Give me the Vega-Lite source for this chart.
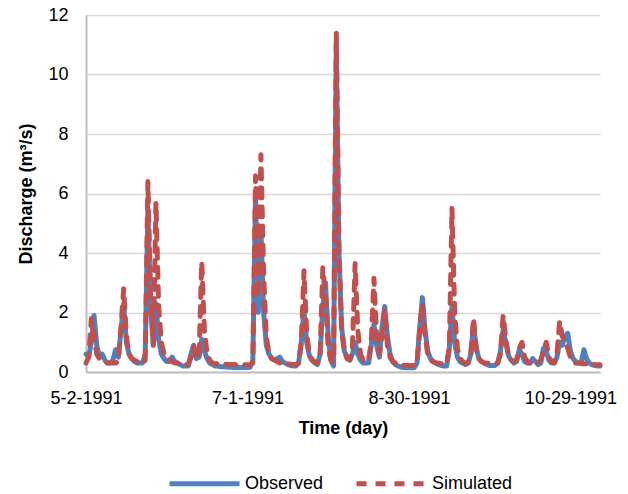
{
"$schema": "https://vega.github.io/schema/vega-lite/v6.json",
"width": 514, "height": 357,
"autosize": "none",
"padding": {"left": 86, "top": 15, "right": 28, "bottom": 122},
"background": "white",
"config": {"view": {"stroke": null}, "font": "Liberation Sans"},
"data": {"format": {"parse": {"date": "date:'%Y-%m-%d'"}}, "values": [
{"date":"1991-05-02","Observed":0.6,"Simulated":0.3},
{"date":"1991-05-03","Observed":0.5,"Simulated":0.5},
{"date":"1991-05-04","Observed":1.0,"Simulated":1.8},
{"date":"1991-05-05","Observed":1.9,"Simulated":1.2},
{"date":"1991-05-06","Observed":0.9,"Simulated":0.6},
{"date":"1991-05-07","Observed":0.5,"Simulated":0.45},
{"date":"1991-05-08","Observed":0.6,"Simulated":0.4},
{"date":"1991-05-09","Observed":0.4,"Simulated":0.35},
{"date":"1991-05-10","Observed":0.3,"Simulated":0.3},
{"date":"1991-05-11","Observed":0.3,"Simulated":0.3},
{"date":"1991-05-12","Observed":0.4,"Simulated":0.3},
{"date":"1991-05-13","Observed":0.75,"Simulated":0.3},
{"date":"1991-05-14","Observed":0.5,"Simulated":0.35},
{"date":"1991-05-15","Observed":1.4,"Simulated":1.5},
{"date":"1991-05-16","Observed":2.3,"Simulated":2.8},
{"date":"1991-05-17","Observed":1.0,"Simulated":1.2},
{"date":"1991-05-18","Observed":0.6,"Simulated":0.6},
{"date":"1991-05-19","Observed":0.45,"Simulated":0.45},
{"date":"1991-05-20","Observed":0.35,"Simulated":0.4},
{"date":"1991-05-21","Observed":0.3,"Simulated":0.35},
{"date":"1991-05-22","Observed":0.3,"Simulated":0.3},
{"date":"1991-05-23","Observed":0.3,"Simulated":0.3},
{"date":"1991-05-24","Observed":0.6,"Simulated":0.4},
{"date":"1991-05-25","Observed":5.5,"Simulated":6.4},
{"date":"1991-05-26","Observed":2.2,"Simulated":2.6},
{"date":"1991-05-27","Observed":0.9,"Simulated":0.9},
{"date":"1991-05-28","Observed":2.3,"Simulated":5.7},
{"date":"1991-05-29","Observed":1.1,"Simulated":2.2},
{"date":"1991-05-30","Observed":0.6,"Simulated":1.0},
{"date":"1991-05-31","Observed":0.45,"Simulated":0.6},
{"date":"1991-06-01","Observed":0.35,"Simulated":0.45},
{"date":"1991-06-02","Observed":0.35,"Simulated":0.4},
{"date":"1991-06-03","Observed":0.5,"Simulated":0.35},
{"date":"1991-06-04","Observed":0.35,"Simulated":0.3},
{"date":"1991-06-05","Observed":0.3,"Simulated":0.3},
{"date":"1991-06-06","Observed":0.25,"Simulated":0.25},
{"date":"1991-06-07","Observed":0.2,"Simulated":0.25},
{"date":"1991-06-08","Observed":0.2,"Simulated":0.25},
{"date":"1991-06-09","Observed":0.2,"Simulated":0.25},
{"date":"1991-06-10","Observed":0.6,"Simulated":0.5},
{"date":"1991-06-11","Observed":0.9,"Simulated":0.85},
{"date":"1991-06-12","Observed":0.45,"Simulated":0.45},
{"date":"1991-06-13","Observed":0.5,"Simulated":0.5},
{"date":"1991-06-14","Observed":1.1,"Simulated":3.7},
{"date":"1991-06-15","Observed":0.7,"Simulated":1.4},
{"date":"1991-06-16","Observed":0.45,"Simulated":0.6},
{"date":"1991-06-17","Observed":0.3,"Simulated":0.4},
{"date":"1991-06-18","Observed":0.25,"Simulated":0.3},
{"date":"1991-06-19","Observed":0.2,"Simulated":0.28},
{"date":"1991-06-20","Observed":0.2,"Simulated":0.27},
{"date":"1991-06-21","Observed":0.18,"Simulated":0.27},
{"date":"1991-06-22","Observed":0.18,"Simulated":0.26},
{"date":"1991-06-23","Observed":0.17,"Simulated":0.26},
{"date":"1991-06-24","Observed":0.16,"Simulated":0.25},
{"date":"1991-06-25","Observed":0.16,"Simulated":0.25},
{"date":"1991-06-26","Observed":0.15,"Simulated":0.25},
{"date":"1991-06-27","Observed":0.15,"Simulated":0.24},
{"date":"1991-06-28","Observed":0.15,"Simulated":0.24},
{"date":"1991-06-29","Observed":0.15,"Simulated":0.24},
{"date":"1991-06-30","Observed":0.15,"Simulated":0.24},
{"date":"1991-07-01","Observed":0.15,"Simulated":0.24},
{"date":"1991-07-02","Observed":0.16,"Simulated":0.24},
{"date":"1991-07-03","Observed":0.4,"Simulated":0.3},
{"date":"1991-07-04","Observed":6.0,"Simulated":6.6},
{"date":"1991-07-05","Observed":2.0,"Simulated":2.5},
{"date":"1991-07-06","Observed":4.8,"Simulated":7.3},
{"date":"1991-07-07","Observed":2.0,"Simulated":3.3},
{"date":"1991-07-08","Observed":0.9,"Simulated":1.2},
{"date":"1991-07-09","Observed":0.6,"Simulated":0.6},
{"date":"1991-07-10","Observed":0.45,"Simulated":0.45},
{"date":"1991-07-11","Observed":0.4,"Simulated":0.4},
{"date":"1991-07-12","Observed":0.45,"Simulated":0.35},
{"date":"1991-07-13","Observed":0.5,"Simulated":0.3},
{"date":"1991-07-14","Observed":0.35,"Simulated":0.3},
{"date":"1991-07-15","Observed":0.3,"Simulated":0.28},
{"date":"1991-07-16","Observed":0.25,"Simulated":0.27},
{"date":"1991-07-17","Observed":0.22,"Simulated":0.26},
{"date":"1991-07-18","Observed":0.2,"Simulated":0.25},
{"date":"1991-07-19","Observed":0.2,"Simulated":0.25},
{"date":"1991-07-20","Observed":0.3,"Simulated":0.3},
{"date":"1991-07-21","Observed":1.0,"Simulated":1.0},
{"date":"1991-07-22","Observed":2.1,"Simulated":3.4},
{"date":"1991-07-23","Observed":1.0,"Simulated":1.3},
{"date":"1991-07-24","Observed":0.55,"Simulated":0.6},
{"date":"1991-07-25","Observed":0.4,"Simulated":0.4},
{"date":"1991-07-26","Observed":0.3,"Simulated":0.35},
{"date":"1991-07-27","Observed":0.25,"Simulated":0.3},
{"date":"1991-07-28","Observed":0.6,"Simulated":0.6},
{"date":"1991-07-29","Observed":2.2,"Simulated":3.5},
{"date":"1991-07-30","Observed":3.0,"Simulated":2.5},
{"date":"1991-07-31","Observed":1.2,"Simulated":0.8},
{"date":"1991-08-01","Observed":0.4,"Simulated":0.4},
{"date":"1991-08-02","Observed":0.2,"Simulated":0.3},
{"date":"1991-08-03","Observed":11.0,"Simulated":11.4},
{"date":"1991-08-04","Observed":4.0,"Simulated":4.0},
{"date":"1991-08-05","Observed":1.5,"Simulated":1.4},
{"date":"1991-08-06","Observed":0.7,"Simulated":0.7},
{"date":"1991-08-07","Observed":0.5,"Simulated":0.45},
{"date":"1991-08-08","Observed":0.4,"Simulated":0.4},
{"date":"1991-08-09","Observed":0.6,"Simulated":0.8},
{"date":"1991-08-10","Observed":1.0,"Simulated":3.65},
{"date":"1991-08-11","Observed":0.6,"Simulated":1.4},
{"date":"1991-08-12","Observed":0.4,"Simulated":0.6},
{"date":"1991-08-13","Observed":0.3,"Simulated":0.4},
{"date":"1991-08-14","Observed":0.3,"Simulated":0.35},
{"date":"1991-08-15","Observed":0.3,"Simulated":0.4},
{"date":"1991-08-16","Observed":0.9,"Simulated":1.0},
{"date":"1991-08-17","Observed":1.6,"Simulated":3.15},
{"date":"1991-08-18","Observed":0.9,"Simulated":1.2},
{"date":"1991-08-19","Observed":0.5,"Simulated":0.6},
{"date":"1991-08-20","Observed":1.5,"Simulated":1.2},
{"date":"1991-08-21","Observed":2.2,"Simulated":2.1},
{"date":"1991-08-22","Observed":1.2,"Simulated":0.9},
{"date":"1991-08-23","Observed":0.6,"Simulated":0.5},
{"date":"1991-08-24","Observed":0.35,"Simulated":0.35},
{"date":"1991-08-25","Observed":0.25,"Simulated":0.3},
{"date":"1991-08-26","Observed":0.2,"Simulated":0.25},
{"date":"1991-08-27","Observed":0.17,"Simulated":0.24},
{"date":"1991-08-28","Observed":0.15,"Simulated":0.23},
{"date":"1991-08-29","Observed":0.14,"Simulated":0.22},
{"date":"1991-08-30","Observed":0.14,"Simulated":0.22},
{"date":"1991-08-31","Observed":0.14,"Simulated":0.22},
{"date":"1991-09-01","Observed":0.15,"Simulated":0.22},
{"date":"1991-09-02","Observed":0.3,"Simulated":0.3},
{"date":"1991-09-03","Observed":1.5,"Simulated":1.4},
{"date":"1991-09-04","Observed":2.5,"Simulated":2.3},
{"date":"1991-09-05","Observed":1.4,"Simulated":1.2},
{"date":"1991-09-06","Observed":0.7,"Simulated":0.6},
{"date":"1991-09-07","Observed":0.45,"Simulated":0.4},
{"date":"1991-09-08","Observed":0.35,"Simulated":0.35},
{"date":"1991-09-09","Observed":0.3,"Simulated":0.3},
{"date":"1991-09-10","Observed":0.25,"Simulated":0.3},
{"date":"1991-09-11","Observed":0.22,"Simulated":0.28},
{"date":"1991-09-12","Observed":0.2,"Simulated":0.27},
{"date":"1991-09-13","Observed":0.2,"Simulated":0.27},
{"date":"1991-09-14","Observed":0.8,"Simulated":0.8},
{"date":"1991-09-15","Observed":2.2,"Simulated":5.5},
{"date":"1991-09-16","Observed":1.0,"Simulated":2.0},
{"date":"1991-09-17","Observed":0.5,"Simulated":0.8},
{"date":"1991-09-18","Observed":0.35,"Simulated":0.45},
{"date":"1991-09-19","Observed":0.3,"Simulated":0.35},
{"date":"1991-09-20","Observed":0.25,"Simulated":0.3},
{"date":"1991-09-21","Observed":0.3,"Simulated":0.3},
{"date":"1991-09-22","Observed":0.6,"Simulated":0.6},
{"date":"1991-09-23","Observed":1.6,"Simulated":1.8},
{"date":"1991-09-24","Observed":0.8,"Simulated":0.8},
{"date":"1991-09-25","Observed":0.45,"Simulated":0.45},
{"date":"1991-09-26","Observed":0.35,"Simulated":0.35},
{"date":"1991-09-27","Observed":0.3,"Simulated":0.3},
{"date":"1991-09-28","Observed":0.25,"Simulated":0.3},
{"date":"1991-09-29","Observed":0.22,"Simulated":0.28},
{"date":"1991-09-30","Observed":0.22,"Simulated":0.28},
{"date":"1991-10-01","Observed":0.22,"Simulated":0.28},
{"date":"1991-10-02","Observed":0.3,"Simulated":0.3},
{"date":"1991-10-03","Observed":0.7,"Simulated":0.6},
{"date":"1991-10-04","Observed":1.4,"Simulated":1.9},
{"date":"1991-10-05","Observed":1.0,"Simulated":1.1},
{"date":"1991-10-06","Observed":0.55,"Simulated":0.55},
{"date":"1991-10-07","Observed":0.4,"Simulated":0.4},
{"date":"1991-10-08","Observed":0.3,"Simulated":0.35},
{"date":"1991-10-09","Observed":0.35,"Simulated":0.4},
{"date":"1991-10-10","Observed":0.75,"Simulated":0.8},
{"date":"1991-10-11","Observed":0.6,"Simulated":1.0},
{"date":"1991-10-12","Observed":0.35,"Simulated":0.5},
{"date":"1991-10-13","Observed":0.3,"Simulated":0.35},
{"date":"1991-10-14","Observed":0.3,"Simulated":0.3},
{"date":"1991-10-15","Observed":0.45,"Simulated":0.3},
{"date":"1991-10-16","Observed":0.35,"Simulated":0.3},
{"date":"1991-10-17","Observed":0.25,"Simulated":0.3},
{"date":"1991-10-18","Observed":0.3,"Simulated":0.4},
{"date":"1991-10-19","Observed":0.8,"Simulated":0.7},
{"date":"1991-10-20","Observed":0.7,"Simulated":1.0},
{"date":"1991-10-21","Observed":0.4,"Simulated":0.5},
{"date":"1991-10-22","Observed":0.3,"Simulated":0.35},
{"date":"1991-10-23","Observed":0.3,"Simulated":0.3},
{"date":"1991-10-24","Observed":0.5,"Simulated":0.6},
{"date":"1991-10-25","Observed":1.0,"Simulated":1.7},
{"date":"1991-10-26","Observed":0.9,"Simulated":1.2},
{"date":"1991-10-27","Observed":1.2,"Simulated":1.0},
{"date":"1991-10-28","Observed":1.3,"Simulated":0.8},
{"date":"1991-10-29","Observed":0.7,"Simulated":0.5},
{"date":"1991-10-30","Observed":0.45,"Simulated":0.35},
{"date":"1991-10-31","Observed":0.35,"Simulated":0.3},
{"date":"1991-11-01","Observed":0.3,"Simulated":0.3},
{"date":"1991-11-02","Observed":0.3,"Simulated":0.28},
{"date":"1991-11-03","Observed":0.75,"Simulated":0.28},
{"date":"1991-11-04","Observed":0.45,"Simulated":0.27},
{"date":"1991-11-05","Observed":0.3,"Simulated":0.26},
{"date":"1991-11-06","Observed":0.25,"Simulated":0.25},
{"date":"1991-11-07","Observed":0.22,"Simulated":0.25},
{"date":"1991-11-08","Observed":0.2,"Simulated":0.24},
{"date":"1991-11-09","Observed":0.2,"Simulated":0.24}
]},
"transform": [{"fold": ["Observed", "Simulated"], "as": ["series", "value"]}],
"mark": {"type": "line", "strokeWidth": 5, "strokeCap": "round", "strokeJoin": "round"},
"encoding": {
  "x": {"field": "date", "type": "temporal",
    "scale": {"domain": [{"year": 1991, "month": 5, "date": 2}, {"year": 1991, "month": 11, "date": 9}]},
    "axis": {"values": [{"year": 1991, "month": 5, "date": 2}, {"year": 1991, "month": 7, "date": 1}, {"year": 1991, "month": 8, "date": 30}, {"year": 1991, "month": 10, "date": 29}],
      "format": "%-m-%-d-%Y", "title": "Time (day)", "labelFontSize": 18, "titleFontSize": 18, "titleFontWeight": "bold",
      "labelColor": "#000000", "titleColor": "#000000", "labelPadding": 17, "ticks": false, "tickSize": 0, "grid": false,
      "domainColor": "#BFBFBF", "domainWidth": 2, "labelFlush": false, "labelOverlap": false, "titlePadding": 12}},
  "y": {"field": "value", "type": "quantitative", "scale": {"domain": [0, 12], "nice": false},
    "axis": {"values": [0, 2, 4, 6, 8, 10, 12], "title": "Discharge (m³/s)", "labelFontSize": 18, "titleFontSize": 18, "titleFontWeight": "bold",
      "labelColor": "#000000", "titleColor": "#000000", "labelPadding": 18, "ticks": false, "tickSize": 0, "grid": true,
      "gridColor": "#D9D9D9", "gridWidth": 1.5, "domainColor": "#BFBFBF", "domainWidth": 2, "labelFlush": false, "titlePadding": 12}},
  "color": {"field": "series", "type": "nominal",
    "scale": {"domain": ["Observed", "Simulated"], "range": ["#4F81BD", "#C0504D"]},
    "legend": {"title": null, "orient": "none", "legendX": 81, "legendY": 431, "direction": "horizontal",
      "symbolType": "stroke", "symbolSize": 4900, "symbolStrokeWidth": 5, "labelFontSize": 18, "labelColor": "#000000",
      "labelOffset": 3, "columnPadding": 22}},
  "strokeDash": {"field": "series", "type": "nominal",
    "scale": {"domain": ["Observed", "Simulated"], "range": [[1, 0], [10, 9]]},
    "legend": {"title": null, "orient": "none", "legendX": 81, "legendY": 431, "direction": "horizontal",
      "symbolType": "stroke", "symbolSize": 4900, "symbolStrokeWidth": 5, "labelFontSize": 18, "labelColor": "#000000",
      "labelOffset": 3, "columnPadding": 22}}
}
}
